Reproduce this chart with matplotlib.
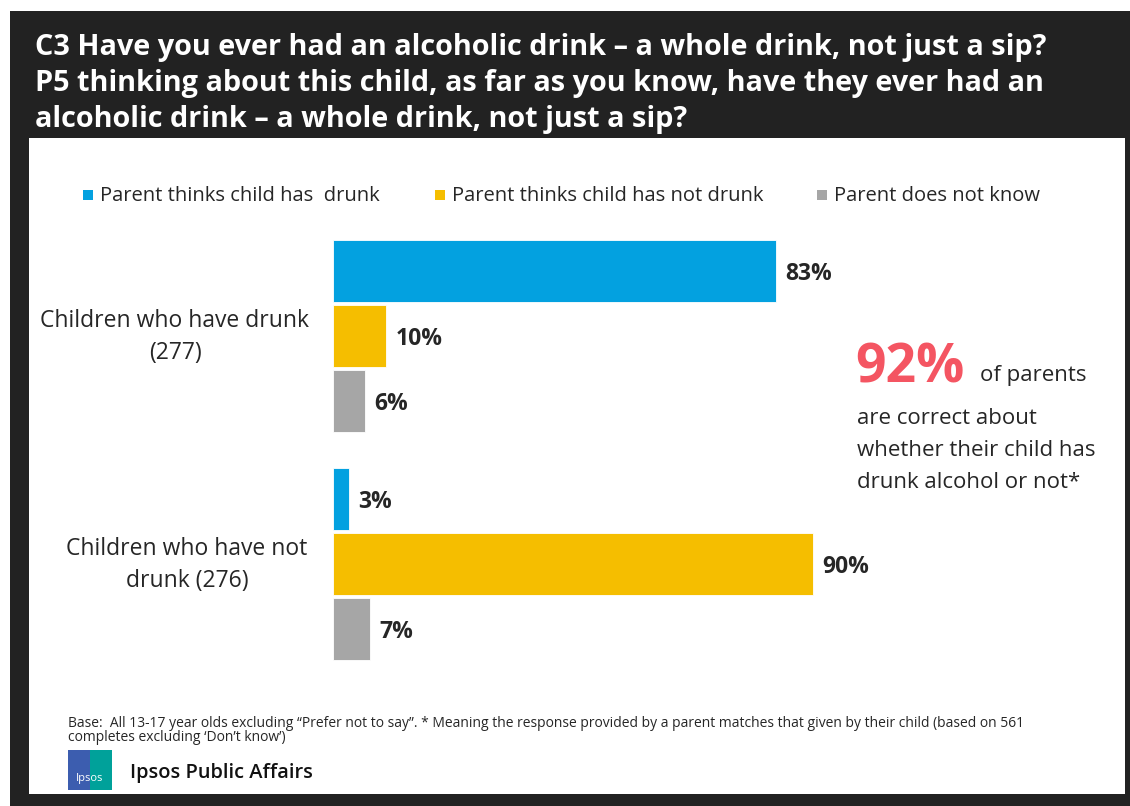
import matplotlib
matplotlib.use("Agg")
import matplotlib.pyplot as plt
from matplotlib.patches import Rectangle

# ---- data ----
categories = ["Children who have drunk\n(277)", "Children who have not\ndrunk (276)"]
series_names = ["Parent thinks child has  drunk", "Parent thinks child has not drunk", "Parent does not know"]
drunk_vals = [83, 3]
not_drunk_vals = [10, 90]
dont_know_vals = [6, 7]
title_lines = ["C3 Have you ever had an alcoholic drink \u2013 a whole drink, not just a sip?",
               "P5 thinking about this child, as far as you know, have they ever had an",
               "alcoholic drink \u2013 a whole drink, not just a sip?"]
headline_value = "92%"
footnote = ("Base:  All 13-17 year olds excluding \u201cPrefer not to say\u201d. * Meaning the response provided by a parent matches that given by their child (based on 561\n"
            "completes excluding \u2018Don\u2019t know\u2019)")

colors = ["#03A1E0", "#F5BE00", "#A6A6A6"]
DARK = "#222222"
TXT = "#262626"
FONT = "Open Sans"

W, H = 1130, 806
fig = plt.figure(figsize=(W / 100, H / 100), dpi=100)
fig.patch.set_facecolor("white")

def fx(x): return x / W
def fy(y): return 1 - y / H

# frames
fig.patches.append(Rectangle((fx(10), fy(806)), fx(1130) - fx(10), fy(11) - fy(806),
                             transform=fig.transFigure, facecolor=DARK, edgecolor="none", zorder=0))
fig.patches.append(Rectangle((fx(29), fy(794)), fx(1125) - fx(29), fy(138) - fy(794),
                             transform=fig.transFigure, facecolor="white", edgecolor="none", zorder=0.5))

# title
for i, line in enumerate(title_lines):
    fig.text(fx(35), fy(48 + 36 * i), line, color="white", fontsize=20.8, fontweight="bold",
             family=FONT, va="center", ha="left")

# legend
leg_x = [88, 440, 822]
for x, name, c in zip(leg_x, series_names, colors):
    fig.patches.append(Rectangle((fx(x - 5), fy(200)), 10 / W, 10 / H, transform=fig.transFigure,
                                 facecolor=c, edgecolor="none", zorder=2))
    fig.text(fx(x + 12), fy(196), name, color=TXT, fontsize=14.5, family=FONT, va="center", ha="left")

# bars axes
ax = fig.add_axes([fx(333), fy(663), 100 * (776 - 333) / 83 / W, (663 - 237) / H])
ax.set_zorder(3)
ax.patch.set_visible(False)
ax.set_xlim(0, 100)
ax.set_ylim(1.434, -0.434)
ax.axis("off")
spacing = 0.285
bh = 0.272
series = [drunk_vals, not_drunk_vals, dont_know_vals]
for j, (vals, c) in enumerate(zip(series, colors)):
    for i, v in enumerate(vals):
        y = i + (j - 1) * spacing
        ax.barh(y, v, height=bh, color=c, edgecolor="white", linewidth=0.6)
        ax.text(v + 1.7, y + 0.012, f"{v}%", va="center", ha="left", fontsize=16.5, fontweight="bold",
                color=TXT, family=FONT)

# category labels
for i, cat in enumerate(categories):
    yc = 337 + 228 * i
    xc = 175 if i == 0 else 187
    fig.text(fx(xc), fy(yc), cat, ha="center", va="center", fontsize=16.5, color=TXT,
             family=FONT, linespacing=1.4)

# annotation
fig.text(fx(855), fy(369), headline_value, color="#F45562", fontsize=38.5, fontweight="bold",
         family=FONT, va="center", ha="left")
fig.text(fx(980), fy(376), "of parents", color=TXT, fontsize=16, family=FONT, va="center", ha="left")
for k, line in enumerate(["are correct about", "whether their child has", "drunk alcohol or not*"]):
    fig.text(fx(857), fy(418 + 32 * k), line, color=TXT, fontsize=16, family=FONT,
             va="center", ha="left")

# footnote
fig.text(fx(68), fy(716), footnote, color=TXT, fontsize=10, family=FONT, va="top", ha="left",
         linespacing=0.9)

# logo
fig.patches.append(Rectangle((fx(68), fy(790)), 44 / W, 40 / H, transform=fig.transFigure,
                             facecolor="#3C5DAF", edgecolor="none", zorder=2))
fig.patches.append(Rectangle((fx(90), fy(790)), 22 / W, 40 / H, transform=fig.transFigure,
                             facecolor="#00A19A", edgecolor="none", zorder=2))
fig.text(fx(90), fy(778), "Ipsos", color="white", fontsize=8, family=FONT, ha="center",
         va="center", zorder=3)
fig.text(fx(130), fy(773), "Ipsos Public Affairs", color="#111111", fontsize=14.4, family=FONT,
         fontweight="semibold", va="center", ha="left")

fig.savefig("out.png", dpi=100, facecolor="white")
